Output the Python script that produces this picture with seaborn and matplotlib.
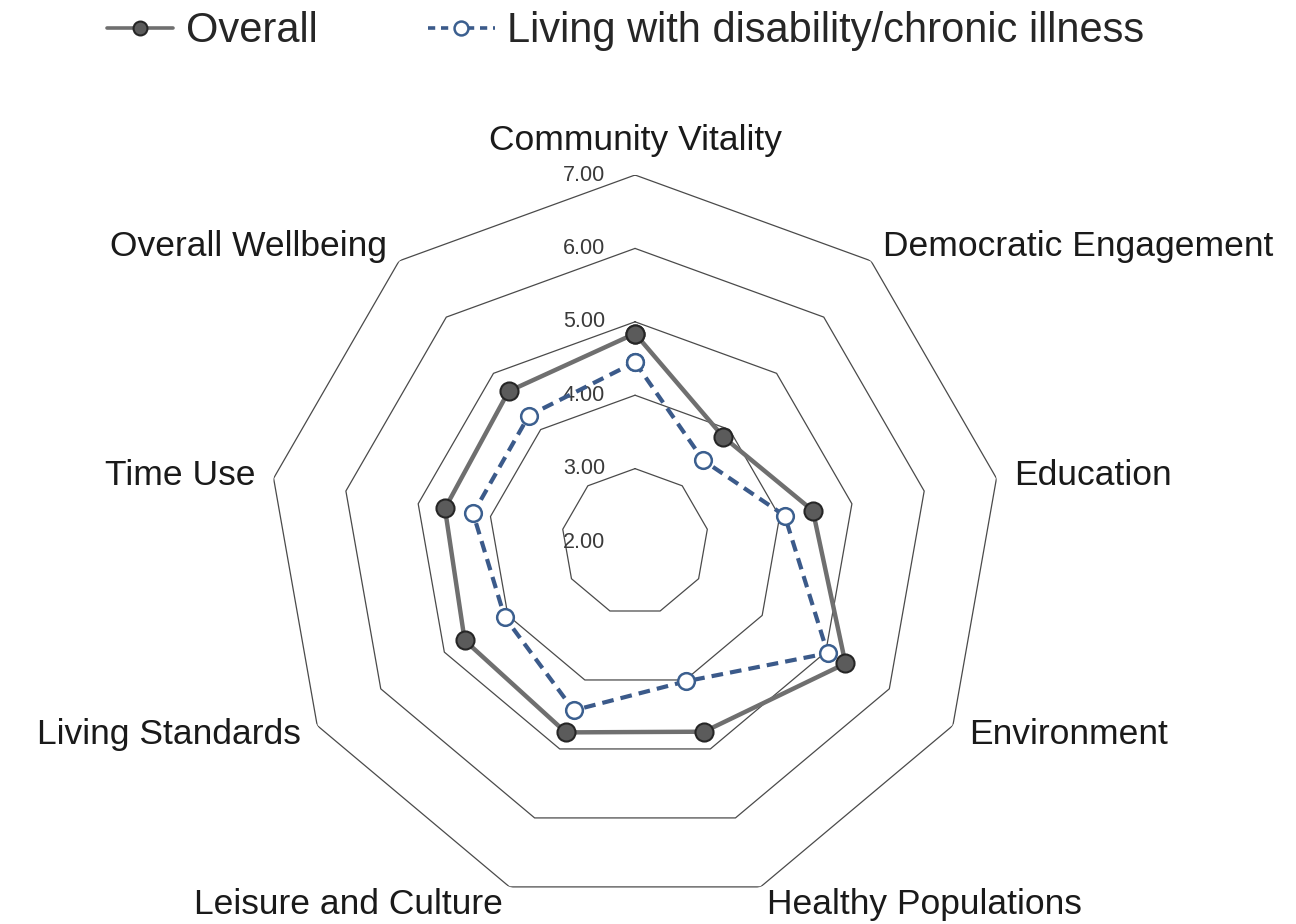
import numpy as np
import matplotlib
matplotlib.use("Agg")
import matplotlib.pyplot as plt
from matplotlib.lines import Line2D
from matplotlib.transforms import offset_copy
import seaborn as sns

# Dimensions du radar, dans le sens horaire depuis le haut
categories = ["Community Vitality", "Democratic Engagement", "Education", "Environment",
              "Healthy Populations", "Leisure and Culture", "Living Standards", "Time Use",
              "Overall Wellbeing"]
overall = [4.84, 3.87, 4.46, 5.31, 4.75, 4.76, 4.68, 4.63, 4.68]
disability = [4.45, 3.45, 4.07, 5.03, 4.02, 4.44, 4.05, 4.24, 4.25]
series_labels = ["Overall", "Living with disability/chronic illness"]
ring_values = [3, 4, 5, 6, 7]
tick_values = [2, 3, 4, 5, 6, 7]
r_min, r_max = 2, 7

sns.set_theme(style="white")
plt.rcParams["font.family"] = ["Liberation Sans", "DejaVu Sans"]

fig = plt.figure(figsize=(12.96, 9.24), dpi=100)
ax = fig.add_axes([0.2068, 0.0162, 0.5664, 0.7944], projection="polar")
ax.set_theta_zero_location("N")
ax.set_theta_direction(-1)
ax.set_ylim(r_min, r_max)
ax.grid(False)
ax.spines["polar"].set_visible(False)
ax.set_xticks([])
ax.set_yticks([])
ax.patch.set_alpha(0)

n = len(categories)
theta = np.linspace(0, 2 * np.pi, n, endpoint=False)
theta_closed = np.append(theta, theta[0])

# anneaux polygonaux (pas de rayons)
for v in ring_values:
    ax.plot(theta_closed, [v] * (n + 1), color="#4a4a4a", lw=0.9, zorder=1)

# etiquettes de l'axe radial, a gauche de l'axe vertical
tick_tr = offset_copy(ax.transData, fig=fig, x=-30, y=0, units="dots")
for v in tick_values:
    ax.text(0, v, f"{v:.2f}", transform=tick_tr, ha="right", va="center",
            fontsize=15.5, color="#3a3a3a")

# noms des categories
for t, name in zip(theta, categories):
    s = np.sin(t)
    if s > 0.1:
        ha, va = "left", "center"
    elif s < -0.1:
        ha, va = "right", "center"
    else:
        ha, va = "center", "bottom"
    ax.text(t, 7.25, name, ha=ha, va=va, fontsize=25.5, color="#1a1a1a")

overall_style = dict(color="#6f6f6f", lw=3.2, marker="o", markersize=13,
                     markerfacecolor="#5b5b5b", markeredgecolor="#262626", markeredgewidth=1.5)
dis_style = dict(color="#3b5a8a", lw=3.0, linestyle=(0, (2.8, 1.7)), marker="o", markersize=12,
                 markerfacecolor="white", markeredgecolor="#3b5f8f", markeredgewidth=1.8)

sns.lineplot(x=theta_closed, y=overall + [overall[0]], ax=ax, sort=False, estimator=None,
             zorder=3, **overall_style)
sns.lineplot(x=theta_closed, y=disability + [disability[0]], ax=ax, sort=False, estimator=None,
             zorder=4, **dis_style)
ax.set_xlabel("")
ax.set_ylabel("")

# legende en haut, marqueurs un peu plus petits
leg_overall = dict(overall_style, lw=2.6, markersize=10)
leg_dis = dict(dis_style, lw=2.6, markersize=10, linestyle=(0, (2.0, 1.6)))
handles = [Line2D([], [], **leg_overall), Line2D([], [], **leg_dis)]
fig.legend(handles, series_labels, loc="center", bbox_to_anchor=(0.4826, 0.966), ncol=2,
           frameon=False, fontsize=30, handlelength=1.6, handletextpad=0.3,
           columnspacing=2.65)

fig.savefig("out.png", dpi=100)
plt.close(fig)
